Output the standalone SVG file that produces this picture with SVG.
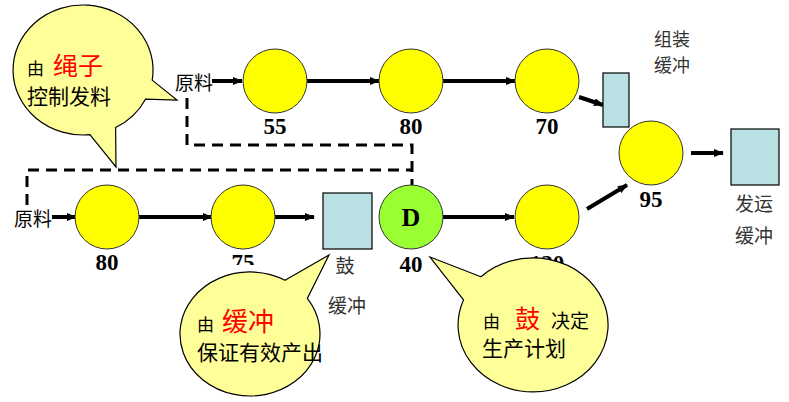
<svg xmlns="http://www.w3.org/2000/svg" width="789" height="402" viewBox="0 0 789 402">
<defs>
<marker id="ah" markerWidth="10" markerHeight="8" refX="9" refY="4" orient="auto" markerUnits="userSpaceOnUse">
<path d="M0,0 L10,4 L0,8 Z" fill="#000"/>
</marker>
<clipPath id="cut"><rect x="0" y="0" width="789" height="265"/></clipPath>
<style>
.st{fill:#FFFF00;stroke:#333;stroke-width:1}
.buf{fill:#B9E0E3;stroke:#000;stroke-width:1.2}
.num{font-family:"Liberation Serif",serif;font-weight:bold;font-size:23px;fill:#000;text-anchor:middle}
.cn{font-family:"Noto Sans CJK SC",sans-serif;font-size:21px;fill:#000}
.small{font-size:17px}
.lbl{font-family:"Noto Sans CJK SC",sans-serif;font-size:19px;fill:#333;text-anchor:middle}
.red{fill:#FF0000;font-size:25px}
.bub{fill:#FFFF99;stroke:#000;stroke-width:1.2}
.arr{stroke:#000;stroke-width:4;fill:none;marker-end:url(#ah)}
.dash{stroke:#000;stroke-width:3;fill:none;stroke-dasharray:11,7}
</style>
</defs>
<rect width="789" height="402" fill="#fff"/>

<g id="connectors">
<path class="dash" d="M187,98 V145 H412 V185"/>
<path class="dash" d="M27,205 V170 H412"/>
<line class="arr" x1="212" y1="81" x2="242" y2="81"/>
<line class="arr" x1="307" y1="81" x2="379" y2="81"/>
<line class="arr" x1="443" y1="81" x2="515" y2="81"/>
<line class="arr" x1="579" y1="97" x2="603" y2="105"/>
<line class="arr" x1="691" y1="153" x2="723" y2="153"/>
<line class="arr" x1="52" y1="217" x2="76" y2="217"/>
<line class="arr" x1="139" y1="217" x2="212" y2="217"/>
<line class="arr" x1="275" y1="217" x2="314" y2="217"/>
<line class="arr" x1="443" y1="217" x2="514" y2="217"/>
<line class="arr" x1="587" y1="209" x2="627" y2="185"/>
</g>

<g id="raw1"><text class="cn" x="175" y="90" style="font-size:19px">原料</text></g>
<g id="raw2"><text class="cn" x="14" y="226" style="font-size:19px">原料</text></g>

<g id="n55"><circle class="st" cx="275" cy="81" r="32"/><text class="num" x="275" y="134">55</text></g>
<g id="n80a"><circle class="st" cx="411" cy="81" r="32"/><text class="num" x="411" y="134">80</text></g>
<g id="n70"><circle class="st" cx="547" cy="81" r="32"/><text class="num" x="547" y="134">70</text></g>
<g id="asmbuf"><rect class="buf" x="603" y="73" width="26" height="54"/>
<text class="lbl" x="672" y="46" style="font-size:18px">组装</text><text class="lbl" x="672" y="72" style="font-size:18px">缓冲</text></g>
<g id="n95"><circle class="st" cx="651" cy="153" r="32"/><text class="num" x="651" y="207">95</text></g>
<g id="shipbuf"><rect class="buf" x="731" y="129" width="48" height="56"/>
<text class="lbl" x="754" y="211">发运</text><text class="lbl" x="754" y="243">缓冲</text></g>

<g id="n80b"><circle class="st" cx="107" cy="217" r="32"/><text class="num" x="107" y="270">80</text></g>
<g id="n75"><circle class="st" cx="243" cy="217" r="32"/><text class="num" x="243" y="270" clip-path="url(#cut)">75</text></g>
<g id="drumbuf"><rect class="buf" x="323" y="193" width="49" height="56"/>
<text class="lbl" x="345" y="273">鼓</text><text class="lbl" x="347" y="313">缓冲</text></g>
<g id="nD"><circle cx="411" cy="217" r="32" fill="#99FF33" stroke="#333" stroke-width="1"/>
<text class="num" x="411" y="226" style="font-size:26px">D</text><text class="num" x="411" y="272">40</text></g>
<g id="n120"><circle class="st" cx="547" cy="217" r="32"/><text class="num" x="547" y="271" clip-path="url(#cut)">120</text></g>

<g id="bubble-rope">
<path class="bub" d="M152.2,80.1 L177,100 L145.5,99.2 A70,65 0 0 1 115.6,127.5 L116,167 L89.9,134.7 A70,65 0 1 1 152.2,80.1 Z"/>
<text class="cn small" x="27" y="75">由</text>
<text class="cn red" x="53" y="75">绳子</text>
<text class="cn" x="27" y="104">控制发料</text>
</g>
<g id="bubble-buffer">
<path class="bub" d="M285,280.3 L329,255 L307.3,298.4 A70,62 0 1 1 285,280.3 Z"/>
<text class="cn small" x="197" y="331">由</text>
<text class="cn red" x="222" y="331" style="font-size:26px">缓冲</text>
<text class="cn" x="197" y="360">保证有效产出</text>
</g>
<g id="bubble-drum">
<path class="bub" d="M480.9,276.8 L430,257 L463.5,299.9 A75,67 0 1 0 480.9,276.8 Z"/>
<text class="cn small" x="483" y="328">由</text>
<text class="cn red" x="515" y="328" style="font-size:25px">鼓</text>
<text class="cn" x="551" y="328" style="font-size:19px">决定</text>
<text class="cn" x="482" y="356">生产计划</text>
</g>
</svg>
